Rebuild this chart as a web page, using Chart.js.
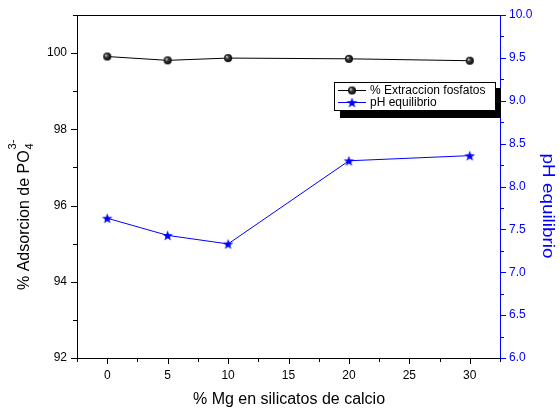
<!DOCTYPE html>
<html>
<head>
<meta charset="utf-8">
<script src="https://cdn.jsdelivr.net/npm/chart.js@4.4.1/dist/chart.umd.min.js"></script>
<style>
html,body{margin:0;padding:0;background:#fff;}
#wrap{width:559px;height:409px;position:relative;}
</style>
</head>
<body>
<div id="wrap"><canvas id="c" width="559" height="409"></canvas></div>
<script>
// ---- data ----
const mgPercent = [0, 5, 10, 20, 30];
const extraccionFosfatos = [99.91, 99.81, 99.87, 99.85, 99.80];
const phEquilibrio = [7.63, 7.43, 7.33, 8.30, 8.36];
const xTickLabels = [0, 5, 10, 15, 20, 25, 30];
const leftTickLabels = [92, 94, 96, 98, 100];
const rightTickLabels = [6.0, 6.5, 7.0, 7.5, 8.0, 8.5, 9.0, 9.5, 10.0];
const seriesNames = ['% Extraccion fosfatos', 'pH equilibrio'];

const FONT = '"Liberation Sans", Arial, sans-serif';
const BLUE = '#0000ff';

function sphereCanvas(r) {
  const c = document.createElement('canvas');
  const s = r * 2 + 2;
  c.width = s; c.height = s;
  const g = c.getContext('2d');
  const grad = g.createRadialGradient(s/2 - r*0.35, s/2 - r*0.35, r*0.1, s/2, s/2, r);
  grad.addColorStop(0, '#d0d0d0');
  grad.addColorStop(0.35, '#404040');
  grad.addColorStop(1, '#000000');
  g.fillStyle = grad;
  g.beginPath(); g.arc(s/2, s/2, r, 0, Math.PI*2); g.fill();
  return c;
}
function starCanvas(R, color) {
  const c = document.createElement('canvas');
  const s = Math.ceil(R * 2 + 2);
  c.width = s; c.height = s;
  const g = c.getContext('2d');
  const cx = s/2, cy = s/2 + 0.5, r = R * 0.42;
  g.fillStyle = color;
  g.beginPath();
  for (let i = 0; i < 10; i++) {
    const a = -Math.PI/2 + i * Math.PI/5;
    const rr = i % 2 === 0 ? R : r;
    const x = cx + rr * Math.cos(a), y = cy + rr * Math.sin(a);
    if (i === 0) g.moveTo(x, y); else g.lineTo(x, y);
  }
  g.closePath(); g.fill();
  return c;
}
const sphere = sphereCanvas(4);
const star = starCanvas(5.5, BLUE);

function fixedTicks(list) {
  return function(scale) { scale.ticks = list.map(v => ({ value: v })); };
}

const axesPlugin = {
  id: 'axesPlugin',
  afterDraw(chart) {
    const ctx = chart.ctx;
    const a = chart.chartArea;
    const sx = chart.scales.x, sl = chart.scales.yL, sr = chart.scales.yR;
    ctx.save();
    ctx.lineWidth = 1;
    // frame
    ctx.strokeStyle = '#000';
    ctx.beginPath();
    ctx.moveTo(a.left + 0.5, a.top + 0.5); ctx.lineTo(a.left + 0.5, a.bottom + 0.5);
    ctx.lineTo(a.right, a.bottom + 0.5);
    ctx.moveTo(a.left, a.top + 0.5); ctx.lineTo(a.right, a.top + 0.5);
    ctx.stroke();
    // bottom ticks
    ctx.beginPath();
    for (let v = -2.5; v <= 32.5 + 1e-9; v += 2.5) {
      const px = Math.round(sx.getPixelForValue(v)) + 0.5;
      const len = (Math.abs(v % 5) < 1e-9) ? 6 : 4;
      ctx.moveTo(px, a.bottom); ctx.lineTo(px, a.bottom + len);
    }
    // left ticks
    for (let v = 92; v <= 101 + 1e-9; v += 1) {
      const py = Math.round(sl.getPixelForValue(v)) + 0.5;
      const len = (v % 2 === 0) ? 6 : 4;
      ctx.moveTo(a.left, py); ctx.lineTo(a.left - len, py);
    }
    ctx.stroke();
    // right axis blue
    ctx.strokeStyle = BLUE;
    ctx.beginPath();
    ctx.moveTo(a.right + 0.5, a.top); ctx.lineTo(a.right + 0.5, a.bottom + 1);
    for (let i = 0; i <= 16; i++) {
      const v = 6 + i * 0.25;
      const py = Math.round(sr.getPixelForValue(v)) + 0.5;
      const len = (i % 2 === 0) ? 6 : 4;
      ctx.moveTo(a.right, py); ctx.lineTo(a.right + len, py);
    }
    ctx.stroke();

    // axis titles
    ctx.fillStyle = '#000';
    ctx.font = '16px ' + FONT;
    ctx.textAlign = 'center'; ctx.textBaseline = 'alphabetic';
    ctx.fillText('% Mg en silicatos de calcio', 289, 404);

    // left title with sub/superscript
    const main = '% Adsorcion de PO';
    ctx.font = '16px ' + FONT;
    const wMain = ctx.measureText(main).width;
    ctx.save();
    ctx.translate(29, 290);
    ctx.rotate(-Math.PI / 2);
    ctx.textAlign = 'left';
    ctx.font = '16px ' + FONT;
    ctx.fillText(main, 0, 0);
    ctx.font = '11px ' + FONT;
    ctx.fillText('4', wMain + 1, 4);
    ctx.fillText('3-', wMain + 1, -13);
    ctx.restore();

    // right title
    ctx.save();
    ctx.fillStyle = BLUE;
    ctx.font = '16px ' + FONT;
    ctx.translate(543, 206);
    ctx.rotate(Math.PI / 2);
    ctx.scale(1.18, 1);
    ctx.textAlign = 'center';
    ctx.fillText('pH equilibrio', 0, 0);
    ctx.restore();

    // legend
    const bx = 334, by = 82, bw = 161, bh = 28;
    ctx.fillStyle = '#000';
    ctx.fillRect(bx + 6, by + 6, bw, bh + 2);
    ctx.fillStyle = '#fff';
    ctx.fillRect(bx, by, bw, bh);
    ctx.strokeStyle = '#000';
    ctx.strokeRect(bx + 0.5, by + 0.5, bw, bh);
    const rows = [
      { y: by + 8, color: '#000', img: sphere, name: seriesNames[0] },
      { y: by + 20, color: BLUE, img: star, name: seriesNames[1] }
    ];
    ctx.font = '12px ' + FONT;
    ctx.textAlign = 'left'; ctx.textBaseline = 'middle';
    rows.forEach(r => {
      ctx.strokeStyle = r.color;
      ctx.beginPath(); ctx.moveTo(bx + 4, r.y + 0.5); ctx.lineTo(bx + 32, r.y + 0.5); ctx.stroke();
      ctx.drawImage(r.img, bx + 18 - r.img.width / 2, r.y - r.img.height / 2 + 0.5);
      ctx.fillStyle = '#000';
      ctx.fillText(r.name, bx + 36, r.y + 1);
    });
    ctx.restore();
  }
};

new Chart(document.getElementById('c'), {
  type: 'line',
  data: {
    datasets: [
      {
        label: seriesNames[0],
        data: mgPercent.map((x, i) => ({ x, y: extraccionFosfatos[i] })),
        yAxisID: 'yL',
        borderColor: '#000',
        borderWidth: 1,
        pointStyle: sphere,
        tension: 0
      },
      {
        label: seriesNames[1],
        data: mgPercent.map((x, i) => ({ x, y: phEquilibrio[i] })),
        yAxisID: 'yR',
        borderColor: BLUE,
        borderWidth: 1,
        pointStyle: star,
        tension: 0
      }
    ]
  },
  options: {
    responsive: false,
    animation: false,
    devicePixelRatio: 1,
    layout: { padding: { top: 15, left: 0, right: 0, bottom: 0 } },
    plugins: { legend: { display: false }, tooltip: { enabled: false } },
    scales: {
      x: {
        type: 'linear', min: -2.5, max: 32.5,
        afterBuildTicks: fixedTicks(xTickLabels),
        afterFit(s) { s.height = 51; },
        grid: { display: true, drawOnChartArea: false, drawTicks: true, tickLength: 6, color: 'rgba(0,0,0,0)' },
        border: { display: false },
        ticks: { color: '#000', font: { size: 12, family: FONT }, padding: 4, maxRotation: 0 }
      },
      yL: {
        type: 'linear', position: 'left', min: 92, max: 101,
        afterBuildTicks: fixedTicks(leftTickLabels),
        afterFit(s) { s.width = 77; },
        grid: { display: true, drawOnChartArea: false, drawTicks: true, tickLength: 6, color: 'rgba(0,0,0,0)' },
        border: { display: false },
        ticks: { color: '#000', font: { size: 12, family: FONT }, padding: 4 }
      },
      yR: {
        type: 'linear', position: 'right', min: 6, max: 10,
        afterBuildTicks: fixedTicks(rightTickLabels),
        afterFit(s) { s.width = 59; },
        grid: { display: true, drawOnChartArea: false, drawTicks: true, tickLength: 6, color: 'rgba(0,0,0,0)' },
        border: { display: false },
        ticks: { color: BLUE, font: { size: 12, family: FONT }, padding: 3, callback: v => Number(v).toFixed(1) }
      }
    }
  },
  plugins: [axesPlugin]
});
</script>
</body>
</html>
